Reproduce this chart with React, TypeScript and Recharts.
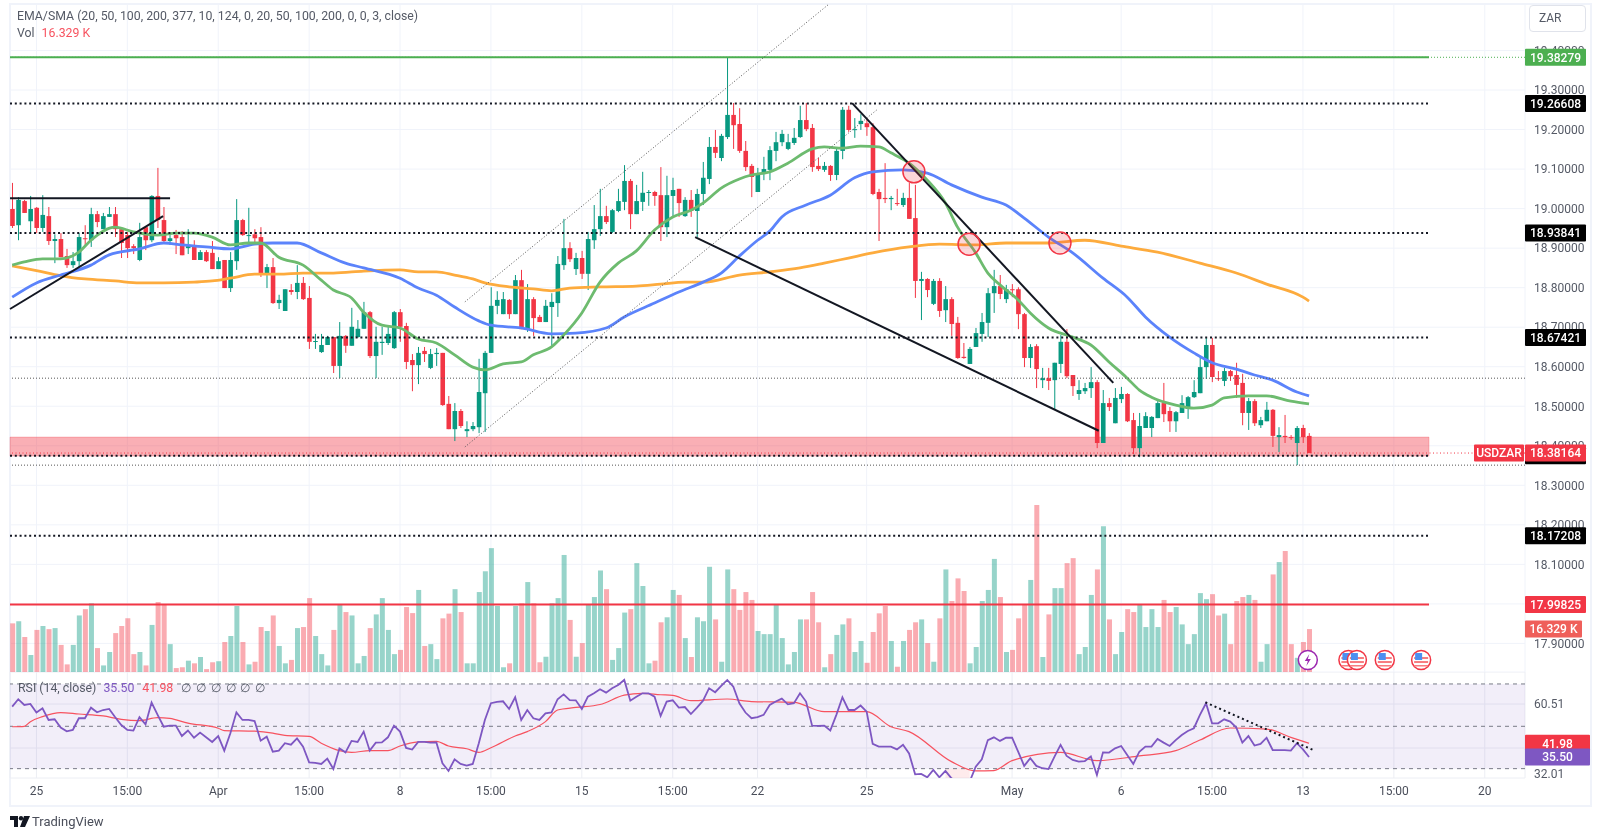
import {
  Bar, CartesianGrid, Cell, ComposedChart, Line, ReferenceArea, ReferenceDot, ReferenceLine, XAxis, YAxis,
} from 'recharts'

const UP = '#089981'
const DOWN = '#f23645'
const FONT = 'Roboto, sans-serif'

// open, high, low, close per bar
const ohlc: number[][] = [
  [18.999,19.065,18.951,18.956],[18.958,19.029,18.920,19.022],[19.019,19.022,18.989,18.989],[18.968,19.032,18.938,18.999],[19.002,19.004,18.938,18.951],
  [18.951,19.034,18.941,18.984],[18.981,19.004,18.908,18.918],[18.918,18.935,18.862,18.923],[18.923,18.938,18.877,18.877],[18.880,18.898,18.850,18.857],
  [18.857,18.890,18.850,18.867],[18.867,18.938,18.852,18.928],[18.925,18.958,18.903,18.923],[18.920,19.002,18.903,18.986],[18.986,18.994,18.953,18.966],
  [18.948,18.989,18.948,18.981],[18.979,19.004,18.979,18.986],[18.986,19.004,18.928,18.948],[18.948,18.948,18.875,18.913],[18.933,18.941,18.875,18.900],
  [18.905,18.910,18.885,18.900],[18.870,18.964,18.867,18.928],[18.953,18.956,18.895,18.920],[18.920,19.034,18.915,19.032],[19.032,19.103,18.951,18.971],
  [18.971,19.004,18.913,18.918],[18.918,18.938,18.908,18.925],[18.933,18.946,18.885,18.925],[18.928,18.943,18.882,18.882],[18.900,18.948,18.885,18.905],
  [18.908,18.920,18.870,18.870],[18.870,18.895,18.870,18.890],[18.890,18.895,18.865,18.867],[18.888,18.918,18.847,18.847],[18.847,18.877,18.847,18.867],
  [18.870,18.870,18.799,18.799],[18.799,18.890,18.789,18.870],[18.867,19.024,18.845,18.971],[18.971,18.974,18.931,18.933],[18.931,19.002,18.908,18.933],
  [18.935,18.948,18.913,18.925],[18.928,18.953,18.827,18.835],[18.835,18.860,18.799,18.852],[18.852,18.875,18.759,18.761],[18.761,18.782,18.746,18.769],
  [18.741,18.796,18.741,18.796],[18.794,18.809,18.782,18.789],[18.789,18.857,18.771,18.812],[18.812,18.827,18.769,18.771],[18.774,18.804,18.645,18.663],
  [18.663,18.683,18.645,18.665],[18.637,18.683,18.635,18.655],[18.655,18.678,18.655,18.675],[18.675,18.675,18.584,18.602],[18.602,18.713,18.571,18.678],
  [18.678,18.680,18.635,18.653],[18.653,18.749,18.653,18.701],[18.675,18.718,18.673,18.696],[18.696,18.764,18.696,18.738],[18.738,18.741,18.622,18.627],
  [18.627,18.701,18.571,18.663],[18.660,18.701,18.630,18.663],[18.660,18.703,18.655,18.683],[18.647,18.741,18.645,18.738],[18.738,18.746,18.663,18.701],
  [18.703,18.711,18.594,18.612],[18.617,18.632,18.538,18.604],[18.604,18.650,18.556,18.635],[18.640,18.650,18.612,18.632],[18.597,18.645,18.594,18.632],
  [18.632,18.647,18.602,18.635],[18.635,18.635,18.501,18.503],[18.506,18.526,18.442,18.442],[18.442,18.508,18.412,18.488],[18.488,18.493,18.445,18.450],
  [18.437,18.462,18.422,18.442],[18.442,18.460,18.437,18.450],[18.447,18.620,18.432,18.536],[18.533,18.640,18.435,18.635],[18.635,18.801,18.635,18.754],
  [18.754,18.791,18.733,18.769],[18.733,18.789,18.733,18.771],[18.769,18.771,18.721,18.733],[18.733,18.832,18.733,18.819],[18.819,18.845,18.695,18.695],
  [18.695,18.809,18.688,18.771],[18.771,18.776,18.678,18.723],[18.726,18.731,18.713,18.713],[18.713,18.769,18.713,18.754],[18.751,18.786,18.653,18.764],
  [18.761,18.880,18.726,18.860],[18.857,18.974,18.845,18.900],[18.900,18.915,18.865,18.872],[18.847,18.888,18.832,18.875],[18.875,18.893,18.822,18.835],
  [18.835,18.941,18.794,18.923],[18.920,19.009,18.898,18.948],[18.948,19.050,18.931,18.981],[18.981,19.007,18.961,18.966],[18.941,18.999,18.938,18.996],
  [18.994,19.050,18.991,19.019],[19.017,19.110,18.996,19.070],[19.070,19.075,18.948,18.986],[18.986,19.060,18.986,19.019],[19.017,19.093,18.994,19.040],
  [19.040,19.047,19.007,19.042],[19.042,19.045,19.007,19.032],[19.034,19.105,18.918,18.953],[18.953,19.083,18.928,19.034],[19.032,19.078,18.976,19.047],
  [19.050,19.050,18.979,19.014],[18.981,19.029,18.979,19.022],[19.022,19.047,18.979,18.994],[18.994,19.050,18.928,19.037],[19.037,19.118,19.009,19.078],
  [19.075,19.181,19.062,19.156],[19.156,19.199,19.128,19.141],[19.128,19.189,19.120,19.184],[19.181,19.383,19.176,19.237],[19.237,19.267,19.151,19.211],
  [19.214,19.254,19.141,19.146],[19.146,19.171,19.095,19.105],[19.108,19.113,19.029,19.080],[19.042,19.103,19.042,19.090],[19.088,19.131,19.072,19.100],
  [19.098,19.158,19.072,19.148],[19.146,19.194,19.120,19.168],[19.168,19.199,19.158,19.189],[19.151,19.189,19.148,19.168],[19.166,19.204,19.161,19.179],
  [19.181,19.260,19.179,19.224],[19.224,19.267,19.196,19.201],[19.204,19.214,19.093,19.105],[19.108,19.128,19.095,19.100],[19.098,19.118,19.093,19.108],
  [19.108,19.110,19.070,19.085],[19.085,19.153,19.072,19.146],[19.146,19.257,19.125,19.250],[19.250,19.260,19.194,19.199],[19.199,19.229,19.179,19.201],
  [19.214,19.239,19.199,19.222],[19.216,19.229,19.184,19.206],[19.206,19.216,19.034,19.037],[19.042,19.050,18.918,19.024],[19.027,19.115,19.014,19.024],
  [19.024,19.032,18.996,19.027],[19.014,19.050,19.007,19.012],[19.009,19.040,19.004,19.027],[19.027,19.065,18.974,18.974],[18.976,19.060,18.774,18.817],
  [18.817,18.840,18.718,18.822],[18.822,18.824,18.776,18.794],[18.759,18.822,18.756,18.817],[18.817,18.824,18.726,18.741],[18.743,18.804,18.713,18.771],
  [18.771,18.776,18.678,18.708],[18.711,18.726,18.620,18.622],[18.625,18.660,18.620,18.622],[18.607,18.650,18.607,18.645],[18.650,18.698,18.650,18.685],
  [18.683,18.736,18.663,18.713],[18.711,18.799,18.675,18.786],[18.786,18.845,18.736,18.804],[18.804,18.832,18.771,18.784],[18.771,18.807,18.761,18.796],
  [18.796,18.809,18.776,18.794],[18.796,18.801,18.695,18.733],[18.733,18.736,18.599,18.622],[18.622,18.657,18.597,18.650],[18.652,18.657,18.546,18.594],
  [18.566,18.597,18.546,18.571],[18.571,18.597,18.541,18.564],[18.566,18.610,18.493,18.610],[18.607,18.680,18.584,18.663],[18.663,18.695,18.571,18.576],
  [18.579,18.579,18.526,18.551],[18.531,18.566,18.516,18.541],[18.538,18.559,18.531,18.546],[18.546,18.599,18.521,18.561],[18.561,18.566,18.394,18.407],
  [18.407,18.541,18.407,18.508],[18.508,18.521,18.488,18.498],[18.457,18.546,18.457,18.521],[18.518,18.549,18.508,18.531],[18.531,18.533,18.460,18.462],
  [18.465,18.483,18.379,18.394],[18.394,18.483,18.371,18.450],[18.445,18.485,18.445,18.475],[18.445,18.475,18.422,18.473],[18.470,18.513,18.470,18.508],
  [18.508,18.559,18.460,18.480],[18.488,18.498,18.435,18.462],[18.462,18.488,18.435,18.485],[18.483,18.528,18.483,18.508],[18.493,18.526,18.468,18.523],
  [18.523,18.566,18.521,18.536],[18.533,18.625,18.533,18.599],[18.599,18.673,18.569,18.655],[18.655,18.673,18.561,18.574],[18.571,18.589,18.564,18.569],
  [18.564,18.597,18.551,18.589],[18.589,18.592,18.564,18.576],[18.579,18.610,18.521,18.554],[18.559,18.582,18.452,18.483],[18.483,18.521,18.440,18.513],
  [18.513,18.518,18.450,18.457],[18.452,18.473,18.445,18.465],[18.462,18.511,18.462,18.491],[18.491,18.493,18.397,18.425],[18.422,18.447,18.384,18.427],
  [18.425,18.478,18.407,18.422],[18.422,18.427,18.415,18.420],[18.407,18.450,18.351,18.445],[18.445,18.453,18.407,18.422],[18.425,18.432,18.38164,18.38164],
]

// thousands
const volumes = [
  18.5,19.3,13.3,6.5,16.0,17.5,16.3,16.7,10.3,2.9,10.3,21.5,23.9,26.1,9.1,2.5,7.6,14.8,17.5,20.4,6.8,7.6,2.5,17.9,26.6,25.5,10.6,1.5,1.8,4.3,
  3.3,5.7,1.1,3.7,4.1,11.4,13.7,25.1,11.4,2.9,3.9,17.1,15.6,21.5,9.9,3.3,4.6,16.7,17.1,28.1,13.7,6.8,2.5,16.0,25.5,22.8,21.5,3.3,6.1,16.7,
  21.9,28.1,16.0,6.8,8.4,24.7,22.4,31.2,9.9,10.6,4.9,20.4,22.2,31.5,22.8,3.3,3.3,30.4,38.3,47.1,25.1,1.8,3.3,25.1,26.1,34.2,26.1,3.7,5.8,26.1,
  28.1,44.5,19.8,5.8,11.0,25.8,28.5,38.6,31.5,4.6,9.1,22.6,23.9,41.4,32.7,3.3,4.3,18.9,20.8,31.2,29.3,12.9,5.7,20.8,19.3,40.0,20.0,3.9,39.0,31.5,
  23.6,30.4,27.4,15.6,14.4,14.4,25.8,12.9,2.9,7.6,20.0,20.0,30.4,18.9,1.8,6.8,14.1,18.1,20.4,7.6,11.8,3.5,15.2,22.3,25.1,11.8,2.0,11.8,16.0,18.9,
  20.0,11.0,3.9,20.4,39.0,27.0,35.6,30.8,3.3,9.5,27.0,31.2,43.0,28.5,7.6,8.4,20.4,25.8,35.0,63.5,5.7,21.9,31.9,31.9,41.4,43.3,6.8,9.5,29.3,39.0,
  55.4,20.0,6.8,15.2,23.9,22.8,25.8,17.1,23.9,17.1,27.4,22.8,24.7,18.1,10.6,14.4,30.0,27.7,29.6,21.5,22.2,10.6,27.0,28.5,29.3,27.4,3.9,10.6,37.1,41.8,
  46.0,10.6,5.4,11.4,16.329,
]

// moving averages, read at the listed bars
const ema20Bars = [0,2,5,8,11,13,17,20,24,27,30,33,36,39,41,44,48,51,53,56,58,61,64,67,70,73,76,78,81,84,86,89,91,94,97,100,103,106,109,112,114,117,120,122,125,128,132,134,137,140,143,145,148,151,154,156,159,161,163,166,168,171,175,178,181,184,186,188,192,195,198,200,204,207,211,214]
const ema20 = [18.857,18.865,18.873,18.873,18.890,18.920,18.953,18.941,18.933,18.938,18.938,18.928,18.908,18.913,18.913,18.877,18.857,18.819,18.794,18.774,18.738,18.705,18.698,18.670,18.660,18.630,18.599,18.592,18.607,18.612,18.630,18.650,18.680,18.736,18.814,18.862,18.893,18.946,18.979,18.996,19.014,19.052,19.075,19.085,19.093,19.115,19.151,19.156,19.153,19.158,19.156,19.141,19.115,19.072,19.014,18.953,18.888,18.837,18.807,18.769,18.736,18.698,18.675,18.655,18.612,18.571,18.541,18.523,18.503,18.495,18.503,18.521,18.526,18.526,18.513,18.506]
const ema50Bars = [0,4,8,13,16,21,25,28,32,36,40,43,47,51,55,58,64,67,70,73,77,79,84,89,93,98,101,106,110,114,117,120,123,125,127,131,135,139,142,147,151,155,160,164,167,171,175,180,184,187,191,195,198,202,205,208,212,214]
const ema50 = [18.776,18.812,18.832,18.857,18.883,18.898,18.913,18.908,18.903,18.898,18.910,18.913,18.913,18.888,18.862,18.850,18.824,18.799,18.781,18.751,18.716,18.705,18.698,18.683,18.685,18.698,18.726,18.761,18.789,18.814,18.837,18.880,18.920,18.943,18.979,19.009,19.034,19.078,19.093,19.098,19.090,19.060,19.029,19.009,18.976,18.928,18.888,18.824,18.776,18.726,18.675,18.635,18.610,18.594,18.579,18.566,18.536,18.526]
const ema200Bars = [0,4,8,12,17,21,25,30,33,36,40,44,48,53,58,64,67,70,73,76,78,82,86,89,92,97,103,107,111,114,120,125,130,134,138,142,148,153,159,164,171,177,183,189,196,202,207,213,214]
const ema200 = [18.855,18.843,18.830,18.822,18.817,18.812,18.812,18.814,18.817,18.824,18.834,18.834,18.837,18.837,18.842,18.845,18.840,18.840,18.832,18.822,18.812,18.802,18.797,18.792,18.799,18.802,18.804,18.809,18.814,18.814,18.832,18.840,18.850,18.862,18.875,18.888,18.903,18.910,18.908,18.913,18.913,18.920,18.905,18.890,18.862,18.837,18.809,18.776,18.766]

const rsi = [
  59.3,62.8,60.1,60.6,56.5,58.5,53.0,53.3,49.4,47.6,48.3,53.8,53.8,58.8,56.6,57.7,58.2,54.3,50.6,48.3,48.0,54.3,50.9,61.2,55.4,49.8,50.3,50.3,45.4,48.0,
  44.6,47.0,44.8,42.6,45.4,38.5,46.7,56.6,53.0,53.0,52.5,43.2,45.1,38.0,38.5,42.0,41.3,44.3,40.4,33.0,32.7,32.2,34.7,29.8,39.6,37.7,43.1,42.6,47.5,38.5,
  42.3,42.4,44.8,50.3,47.5,39.8,39.0,42.6,42.6,42.3,42.4,32.5,28.9,34.4,32.2,31.4,32.2,42.0,53.0,60.9,61.5,61.8,58.2,63.7,53.0,57.7,53.8,53.0,56.1,56.6,
  62.8,65.1,62.4,62.3,58.2,64.0,65.6,67.5,65.9,68.0,69.5,71.9,62.1,64.0,65.6,65.6,64.0,54.9,
  61.7,62.3,58.8,59.1,55.8,58.8,62.1,68.0,66.1,69.1,71.9,68.7,60.9,56.5,53.8,54.3,55.4,60.1,61.7,63.1,60.4,60.9,65.6,61.7,50.3,50.2,50.3,48.0,55.4,63.7,
  57.7,57.7,59.8,56.9,41.7,40.4,40.4,40.4,39.1,41.3,37.2,27.3,27.5,25.9,29.4,25.9,28.9,25.4,24.3,22.8,23.9,30.9,34.4,43.5,44.8,43.1,44.6,44.6,38.0,31.3,
  34.9,31.3,30.2,29.8,35.7,41.2,36.0,34.1,33.3,33.6,35.7,27.0,37.7,37.6,39.6,40.7,36.5,32.2,38.0,40.4,40.4,44.0,42.3,40.7,43.5,45.9,47.8,49.1,55.4,60.9,
  51.4,51.4,53.3,52.2,49.4,42.3,45.4,40.9,41.7,44.6,38.8,38.7,38.7,38.5,42.0,39.1,35.5,
]
const rsiMaBars = [0,2,3,5,8,11,15,18,21,24,26,29,34,35,40,43,45,49,51,54,56,59,62,64,67,70,72,75,77,79,83,85,88,90,93,97,101,104,107,109,112,118,122,129,134,141,145,148,155,159,162,165,173,179,186,192,196,201,207,211,214]
const rsiMa = [49.8,50.0,52.2,54.6,56.5,55.8,54.9,53.3,52.7,54.1,53.7,51.5,49.1,48.0,47.7,46.8,45.7,45.2,42.0,38.5,37.7,38.5,38.5,40.7,42.6,42.9,40.7,39.4,37.7,39.9,45.4,47.5,52.2,57.7,58.9,60.3,64.7,65.6,64.9,64.6,62.1,62.9,61.7,61.3,56.9,56.9,49.8,47.5,33.3,28.9,29.1,33.8,37.7,33.8,36.0,38.5,43.5,49.2,48.7,44.8,41.98]

const priceTicks = [17.9,18.0,18.1,18.2,18.3,18.4,18.5,18.6,18.7,18.8,18.9,19.0,19.1,19.2,19.3,19.4]
const rsiTicks = [60.51, 39.75]
const timeTicks = [4,19,34,49,64,79,94,109,123,141,165,183,198,213,228,243]
const timeLabels = ['25','15:00','Apr','15:00','8','15:00','15','15:00','22','25','May','6','15:00','13','15:00','20']

const X_DOMAIN: [number, number] = [-0.363, 249.64]
const PRICE_DOMAIN: [number, number] = [17.8277, 19.5176]
const VOL_DOMAIN: [number, number] = [0, 254]
const RSI_DOMAIN: [number, number] = [25.58, 75.65]
const RAY_END = 233.8

const dottedLevels = [19.26608, 18.93841, 18.67421, 18.3745, 18.17208]
const thinLevels = [18.571, 18.351]
const tagValues = [19.38279, 19.26608, 18.93841, 18.67421, 18.3745, 18.38164, 18.17208, 17.99825]
const tagTexts = ['19.38279','19.26608','18.93841','18.67421','','18.38164','18.17208','17.99825']
const tagFills = ['#4caf50','#000000','#000000','#000000','#000000',DOWN,'#000000',DOWN]

// trend lines as [bar, price, bar, price]
const blackLines = [
  [-0.36,19.026,26.05,19.026],
  [-0.36,18.746,24.9,18.981],
  [138.6,19.267,181.7,18.559],
  [112.7,18.928,179.3,18.438],
]
const channelLines = [
  [74.7,18.764,134.8,19.5176],
  [74.7,18.397,142.7,19.250],
]
const circleBars = [148.8,157.9,172.9]
const circlePrices = [19.093,18.910,18.913]
const flagBars = [220.5,221.9,226.5,232.5]

const sparse = (bars: number[], vals: number[], i: number) => {
  const k = bars.indexOf(i)
  return k < 0 ? null : vals[k]
}

const priceRows = ohlc.map(([open, high, low, close], i) => ({
  i, open, high, low, close,
  range: [low, high],
  vol: volumes[i],
  ema20: sparse(ema20Bars, ema20, i),
  ema50: sparse(ema50Bars, ema50, i),
  ema200: sparse(ema200Bars, ema200, i),
}))

const rsiRows = rsi.map((v, i) => ({ i, rsi: v, ma: sparse(rsiMaBars, rsiMa, i) }))

function Candle(props: any) {
  const { x, y, width, height, payload } = props
  const { open, high, low, close } = payload
  const perUnit = height / (high - low)
  const top = y + (high - Math.max(open, close)) * perUnit
  const bottom = y + (high - Math.min(open, close)) * perUnit
  const color = close >= open ? UP : DOWN
  const cx = x + width / 2
  return (
    <g>
      <line x1={cx} x2={cx} y1={y} y2={y + height} stroke={color} strokeWidth={1} />
      <rect x={x} y={top} width={width} height={Math.max(bottom - top, 1)} fill={color} />
    </g>
  )
}

function Tag({ viewBox, text, fill, width = 61, shift = 0 }: any) {
  const x = viewBox.x + viewBox.width + shift
  return (
    <g>
      <rect x={x} y={viewBox.y - 8.5} width={width} height={17} rx={1} fill={fill} />
      <text x={x + width / 2} y={viewBox.y + 4.3} textAnchor="middle" fontSize={12} fontWeight={500} fontFamily={FONT} fill="#fff">{text}</text>
    </g>
  )
}

function AxisNote({ viewBox, text }: any) {
  return (
    <text x={viewBox.x + viewBox.width + 9} y={viewBox.y + 4} fontSize={12} fontFamily={FONT} fill="#555a66">{text}</text>
  )
}

function Flash({ cx, cy }: any) {
  return (
    <g>
      <circle cx={cx} cy={cy} r={9.5} fill="#fff" stroke="#9c27b0" strokeWidth={1.5} />
      <path d={`M${cx + 1.5} ${cy - 6} L${cx - 3} ${cy + 1} L${cx} ${cy + 1} L${cx - 1.5} ${cy + 6} L${cx + 3} ${cy - 1} L${cx} ${cy - 1} Z`} fill="#9c27b0" />
    </g>
  )
}

function Flag({ cx, cy }: any) {
  return (
    <g>
      <circle cx={cx} cy={cy} r={9.5} fill="#fff" stroke={DOWN} strokeWidth={1.5} />
      <rect x={cx - 7} y={cy - 3} width={14} height={2} fill="#f77c80" />
      <rect x={cx - 7} y={cy + 1} width={14} height={2} fill="#f77c80" />
      <rect x={cx - 7} y={cy + 5} width={14} height={1.5} fill="#f77c80" />
      <rect x={cx - 6} y={cy - 7} width={7} height={7} fill="#4c8ff0" />
    </g>
  )
}

const legendBase = { position: 'absolute' as const, fontFamily: FONT, fontSize: 12.3, color: '#555a66', whiteSpace: 'nowrap' as const }
const layer = (top: number) => ({ position: 'absolute' as const, left: 0, top })

export default function App() {
  return (
    <div style={{ position: 'absolute', left: 0, top: 0, width: 1600, height: 840, background: '#fff', overflow: 'hidden', filter: 'blur(0.35px)' }}>
      <div style={{ position: 'absolute', left: 9, top: 3, width: 1579, height: 800, border: '2px solid #f0f3fa' }} />

      <div style={layer(0)}>
        <ComposedChart width={1600} height={672} data={priceRows} margin={{ top: 4, right: 10, bottom: 0, left: 10 }}>
          <XAxis xAxisId="p" dataKey="i" type="number" domain={X_DOMAIN} ticks={timeTicks} allowDataOverflow hide />
          <XAxis xAxisId="v" dataKey="i" type="number" domain={X_DOMAIN} ticks={timeTicks} allowDataOverflow hide />
          <YAxis
            yAxisId="p" orientation="right" width={65} type="number" domain={PRICE_DOMAIN} ticks={priceTicks}
            allowDataOverflow axisLine={false} tickLine={false} interval={0}
            tick={{ fontSize: 12, fill: '#555a66', fontFamily: FONT, textAnchor: 'start', dx: 1 }}
            tickFormatter={(v: number) => v.toFixed(5)}
          />
          <YAxis yAxisId="v" type="number" domain={VOL_DOMAIN} hide />
          <CartesianGrid xAxisId="p" yAxisId="p" stroke="#f0f3fa" />

          <Bar xAxisId="v" yAxisId="v" dataKey="vol" barSize={5} isAnimationActive={false} fillOpacity={0.42}>
            {priceRows.map((r) => <Cell key={r.i} fill={r.close >= r.open ? UP : DOWN} />)}
          </Bar>
          <Bar xAxisId="p" yAxisId="p" dataKey="range" barSize={4.6} shape={Candle} isAnimationActive={false} />

          <Line xAxisId="p" yAxisId="p" dataKey="ema200" type="monotone" stroke="#fdab3d" strokeWidth={2.8} dot={false} connectNulls isAnimationActive={false} />
          <Line xAxisId="p" yAxisId="p" dataKey="ema50" type="monotone" stroke="#5b83fb" strokeWidth={2.8} dot={false} connectNulls isAnimationActive={false} />
          <Line xAxisId="p" yAxisId="p" dataKey="ema20" type="monotone" stroke="#6dbb6f" strokeWidth={2.8} dot={false} connectNulls isAnimationActive={false} />

          <ReferenceArea xAxisId="p" yAxisId="p" x1={X_DOMAIN[0]} x2={RAY_END} y1={18.374} y2={18.422} fill={DOWN} fillOpacity={0.4} stroke={DOWN} strokeOpacity={0.25} />

          {thinLevels.map((y) => (
            <ReferenceLine key={y} xAxisId="p" yAxisId="p" y={y} stroke="#555" strokeWidth={1} strokeDasharray="1 2" />
          ))}
          <ReferenceLine xAxisId="p" yAxisId="p" y={18.38164} stroke={DOWN} strokeWidth={1} strokeDasharray="1 2.5" />
          <ReferenceLine xAxisId="p" yAxisId="p" y={19.38279} stroke="#4caf50" strokeWidth={1} strokeDasharray="1 2" />

          {dottedLevels.map((y) => (
            <ReferenceLine key={y} xAxisId="p" yAxisId="p" stroke="#131722" strokeWidth={2} strokeDasharray="2 2.8"
              segment={[{ x: X_DOMAIN[0], y }, { x: RAY_END, y }]} />
          ))}
          <ReferenceLine xAxisId="p" yAxisId="p" stroke="#4caf50" strokeWidth={2} segment={[{ x: X_DOMAIN[0], y: 19.38279 }, { x: RAY_END, y: 19.38279 }]} />
          <ReferenceLine xAxisId="p" yAxisId="p" stroke={DOWN} strokeWidth={2} segment={[{ x: X_DOMAIN[0], y: 17.99825 }, { x: RAY_END, y: 17.99825 }]} />

          {channelLines.map(([x1, y1, x2, y2]) => (
            <ReferenceLine key={y1} xAxisId="p" yAxisId="p" stroke="#555" strokeWidth={1} strokeDasharray="1 2"
              segment={[{ x: x1, y: y1 }, { x: x2, y: y2 }]} />
          ))}
          {blackLines.map(([x1, y1, x2, y2]) => (
            <ReferenceLine key={x1 + '-' + y2} xAxisId="p" yAxisId="p" stroke="#131722" strokeWidth={2}
              segment={[{ x: x1, y: y1 }, { x: x2, y: y2 }]} />
          ))}
          {circleBars.map((x, k) => (
            <ReferenceDot key={x} xAxisId="p" yAxisId="p" x={x} y={circlePrices[k]} r={11} fill={DOWN} fillOpacity={0.2} stroke={DOWN} strokeWidth={1.5} />
          ))}

          <ReferenceDot xAxisId="p" yAxisId="p" x={213.8} y={17.858} shape={Flash} />
          {flagBars.map((x) => (
            <ReferenceDot key={x} xAxisId="p" yAxisId="p" x={x} y={17.858} shape={Flag} />
          ))}
        </ComposedChart>
      </div>

      <div style={layer(672)}>
        <ComposedChart width={1600} height={130} data={rsiRows} margin={{ top: 0, right: 10, bottom: 0, left: 10 }}>
          <XAxis
            dataKey="i" type="number" domain={X_DOMAIN} ticks={timeTicks} allowDataOverflow interval={0} height={24}
            axisLine={false} tickLine={false}
            tick={{ fontSize: 12, fill: '#4a4e5a', fontFamily: FONT }}
            tickFormatter={(v: number) => timeLabels[timeTicks.indexOf(v)]}
          />
          <YAxis
            orientation="right" width={65} type="number" domain={RSI_DOMAIN} ticks={rsiTicks} allowDataOverflow interval={0}
            axisLine={false} tickLine={false}
            tick={{ fontSize: 12, fill: '#555a66', fontFamily: FONT, textAnchor: 'start', dx: 1 }}
            tickFormatter={(v: number) => (v === rsiTicks[0] ? v.toFixed(2) : '')}
          />
          <CartesianGrid stroke="#eceef4" />
          <ReferenceArea x1={X_DOMAIN[0]} x2={X_DOMAIN[1]} y1={30} y2={70} fill="#7e57c2" fillOpacity={0.1} stroke="none" />
          <ReferenceArea x1={154} x2={158} y1={25.58} y2={30} fill={DOWN} fillOpacity={0.1} stroke="none" />
          {[70, 50, 30].map((y) => (
            <ReferenceLine key={y} y={y} stroke="#787b86" strokeDasharray="4 4" />
          ))}
          <Line dataKey="ma" type="monotone" stroke="#f7525f" strokeWidth={1.2} dot={false} connectNulls isAnimationActive={false} />
          <Line dataKey="rsi" type="linear" stroke="#7e57c2" strokeWidth={1.8} dot={false} isAnimationActive={false} />
          <ReferenceLine stroke="#131722" strokeWidth={2} strokeDasharray="2 3" segment={[{ x: 196.9, y: 61.3 }, { x: 214.7, y: 38.8 }]} />
        </ComposedChart>
      </div>

      {/* price tags go in their own layer so they cover the axis tick text */}
      <div style={layer(0)}>
        <ComposedChart width={1600} height={672} data={priceRows} margin={{ top: 4, right: 75, bottom: 0, left: 10 }}>
          <XAxis xAxisId="p" dataKey="i" type="number" domain={X_DOMAIN} allowDataOverflow hide />
          <YAxis yAxisId="p" type="number" domain={PRICE_DOMAIN} allowDataOverflow hide />
          <YAxis yAxisId="v" type="number" domain={VOL_DOMAIN} allowDataOverflow hide />
          {tagValues.map((y, k) => (
            <ReferenceLine key={y} xAxisId="p" yAxisId="p" y={y} stroke="none" label={<Tag text={tagTexts[k]} fill={tagFills[k]} />} />
          ))}
          <ReferenceLine xAxisId="p" yAxisId="p" y={18.38164} stroke="none" label={<Tag text="USDZAR" fill={DOWN} width={50} shift={-51} />} />
          <ReferenceLine xAxisId="p" yAxisId="v" y={16.329} stroke="none" label={<Tag text="16.329 K" fill="#ef5f5a" width={57} />} />
        </ComposedChart>
      </div>
      <div style={layer(672)}>
        <ComposedChart width={1600} height={130} data={rsiRows} margin={{ top: 0, right: 75, bottom: 24, left: 10 }}>
          <XAxis dataKey="i" type="number" domain={X_DOMAIN} allowDataOverflow hide />
          <YAxis type="number" domain={RSI_DOMAIN} allowDataOverflow hide />
          <ReferenceLine y={41.98} stroke="none" label={<Tag text="41.98" fill={DOWN} width={65} />} />
          <ReferenceLine y={35.5} stroke="none" label={<Tag text="35.50" fill="#7e57c2" width={65} />} />
          <ReferenceLine y={27.3} stroke="none" label={<AxisNote text="32.01" />} />
        </ComposedChart>
      </div>

      <div style={{ ...legendBase, left: 17, top: 9 }}>EMA/SMA (20, 50, 100, 200, 377, 10, 124, 0, 20, 50, 100, 200, 0, 0, 3, close)</div>
      <div style={{ ...legendBase, left: 17, top: 26 }}>Vol <span style={{ color: '#f7525f', marginLeft: 4 }}>16.329 K</span></div>
      <div style={{ ...legendBase, left: 18, top: 681 }}>
        RSI (14, close) <span style={{ color: '#7e57c2', marginLeft: 4 }}>35.50</span>
        <span style={{ color: '#f7525f', marginLeft: 8 }}>41.98</span>
        <span style={{ marginLeft: 8, letterSpacing: 4.8 }}>∅∅∅∅∅∅</span>
      </div>
      <div style={{ position: 'absolute', left: 1529, top: 5, width: 55, height: 25, border: '1px solid #e0e3eb', borderRadius: 4, fontFamily: FONT, fontSize: 12, color: '#555a66', lineHeight: '25px', textIndent: 9 }}>ZAR</div>
      <svg style={{ position: 'absolute', left: 10, top: 816 }} width={20} height={11}>
        <path d="M0 0H8V11H4V4H0Z M14 0H20L15 11H10Z" fill="#131722" />
        <circle cx={11} cy={2.2} r={2.2} fill="#131722" />
      </svg>
      <div style={{ position: 'absolute', left: 32, top: 814, fontFamily: FONT, fontSize: 13, color: '#4a4e5a' }}>TradingView</div>
    </div>
  )
}
